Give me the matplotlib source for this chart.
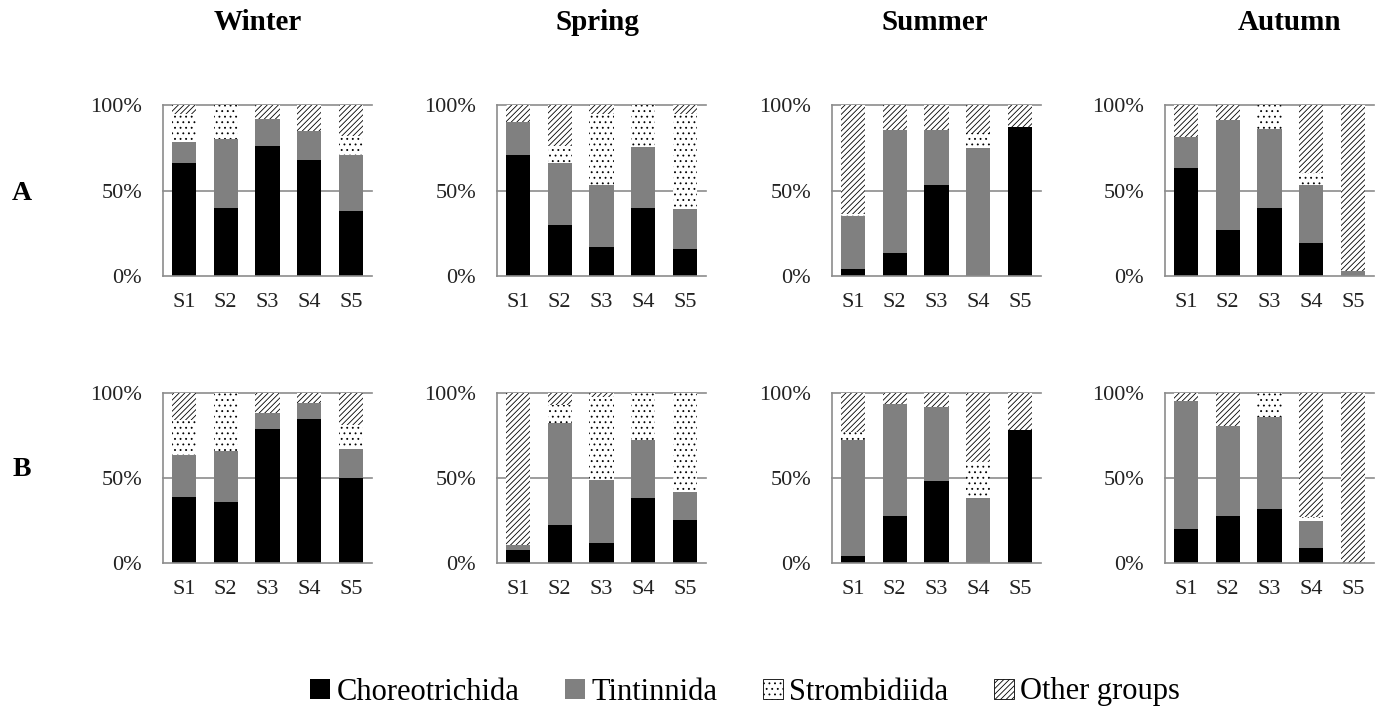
import matplotlib
matplotlib.use('Agg')
import matplotlib.pyplot as plt
from matplotlib.patches import Patch
import numpy as np

plt.rcParams['font.family'] = 'Liberation Serif'
plt.rcParams['hatch.linewidth'] = 0.6

stations = ['S1', 'S2', 'S3', 'S4', 'S5']
seasons = ['Winter', 'Spring', 'Summer', 'Autumn']
groups = ['Choreotrichida', 'Tintinnida', 'Strombidiida', 'Other groups']

# percentages per station, row A
winter_a_chor = [66, 40, 76, 68, 38]
winter_a_tint = [12.5, 40, 16, 17, 33]
winter_a_strom = [16.5, 20, 0, 0, 11]
winter_a_other = [5, 0, 8, 15, 18]

spring_a_chor = [71, 30, 17, 40, 16]
spring_a_tint = [19, 36, 36.5, 35.5, 23]
spring_a_strom = [0, 10, 41.5, 24.5, 56]
spring_a_other = [10, 24, 5, 0, 5]

summer_a_chor = [4, 13.5, 53.5, 0, 87]
summer_a_tint = [31, 72, 32, 75, 0]
summer_a_strom = [1, 0, 0, 8.5, 0]
summer_a_other = [64, 14.5, 14.5, 16.5, 13]

autumn_a_chor = [63, 27, 40, 19.5, 0]
autumn_a_tint = [18.5, 64, 46, 34, 3]
autumn_a_strom = [0, 0, 14, 6.5, 0]
autumn_a_other = [18.5, 9, 0, 40, 97]

# row B
winter_b_chor = [39, 36, 79, 84.5, 50]
winter_b_tint = [24.5, 30, 9, 9.5, 17]
winter_b_strom = [20.5, 34, 0, 0, 14]
winter_b_other = [16, 0, 12, 6, 19]

spring_b_chor = [7.5, 22.5, 11.5, 38, 25.5]
spring_b_tint = [3, 60, 37.5, 34.5, 16]
spring_b_strom = [0, 10.5, 48.5, 27.5, 58.5]
spring_b_other = [89.5, 7, 2.5, 0, 0]

summer_b_chor = [4, 27.5, 48.5, 0, 78.5]
summer_b_tint = [68.5, 66, 43, 38.5, 0]
summer_b_strom = [4.5, 0, 0, 21, 0]
summer_b_other = [23, 6.5, 8.5, 40.5, 21.5]

autumn_b_chor = [20, 27.5, 32, 9, 0]
autumn_b_tint = [75.5, 53, 54, 16, 0]
autumn_b_strom = [0, 0, 14, 2, 0]
autumn_b_other = [4.5, 19.5, 0, 73, 100]

panels = {
    ('A', 'Winter'): [winter_a_chor, winter_a_tint, winter_a_strom, winter_a_other],
    ('A', 'Spring'): [spring_a_chor, spring_a_tint, spring_a_strom, spring_a_other],
    ('A', 'Summer'): [summer_a_chor, summer_a_tint, summer_a_strom, summer_a_other],
    ('A', 'Autumn'): [autumn_a_chor, autumn_a_tint, autumn_a_strom, autumn_a_other],
    ('B', 'Winter'): [winter_b_chor, winter_b_tint, winter_b_strom, winter_b_other],
    ('B', 'Spring'): [spring_b_chor, spring_b_tint, spring_b_strom, spring_b_other],
    ('B', 'Summer'): [summer_b_chor, summer_b_tint, summer_b_strom, summer_b_other],
    ('B', 'Autumn'): [autumn_b_chor, autumn_b_tint, autumn_b_strom, autumn_b_other],
}

# fill colour and hatch for each group
styles = [('black', None), ('#808080', None), ('white', '...'), ('white', '//////')]

W, H = 1378, 713
fig = plt.figure(figsize=(W / 100, H / 100), dpi=100)

lefts = [163, 497, 832, 1165]
rows = {'A': (105, 276), 'B': (393, 563)}
axw = 209

x = np.arange(len(stations))
for (row, season), parts in panels.items():
    top, bottom = rows[row]
    left = lefts[seasons.index(season)]
    ax = fig.add_axes([left / W, 1 - bottom / H, axw / W, (bottom - top) / H])
    base = np.zeros(len(stations))
    for vals, (col, hatch) in zip(parts, styles):
        vals = np.array(vals) / 100.0
        ax.bar(x, vals, 0.58, bottom=base, color=col, hatch=hatch,
               edgecolor='black', linewidth=0, zorder=2)
        base = base + vals
    ax.set_xlim(-0.5, 4.5)
    ax.set_ylim(0, 1)
    for yv in [0.5, 1.0]:
        ax.axhline(yv, color='#8c8c8c', lw=1.2, zorder=0, clip_on=False)
    ax.set_yticks([0, 0.5, 1.0])
    ax.set_yticklabels(['0%', '50%', '100%'])
    ax.set_xticks(x)
    ax.set_xticklabels(stations)
    ax.tick_params(axis='y', length=0, pad=15, labelsize=16, colors='#222222')
    ax.tick_params(axis='x', length=0, pad=12, labelsize=16, colors='#222222')
    for s in ['top', 'right']:
        ax.spines[s].set_visible(False)
    for s in ['left', 'bottom']:
        ax.spines[s].set_color('#8c8c8c')
        ax.spines[s].set_linewidth(1.2)

title_x = [258, 597, 935, 1290]
for season, tx in zip(seasons, title_x):
    fig.text(tx / W, 1 - 22 / H, season, ha='center', va='center',
             fontsize=21, fontweight='bold')

fig.text(22 / W, 1 - 194 / H, 'A', ha='center', va='center', fontsize=20, fontweight='bold')
fig.text(22 / W, 1 - 470 / H, 'B', ha='center', va='center', fontsize=20, fontweight='bold')

handles = [Patch(facecolor=c, hatch=h, edgecolor='black', linewidth=0.6 if h else 0)
           for c, h in styles]
fig.legend(handles, groups, loc='center', bbox_to_anchor=(745 / W, 1 - 692 / H),
           ncol=4, frameon=False, fontsize=22, handlelength=0.65, handleheight=0.65,
           handletextpad=0.2, columnspacing=1.5, borderpad=0)

fig.savefig('out.png', dpi=100)
